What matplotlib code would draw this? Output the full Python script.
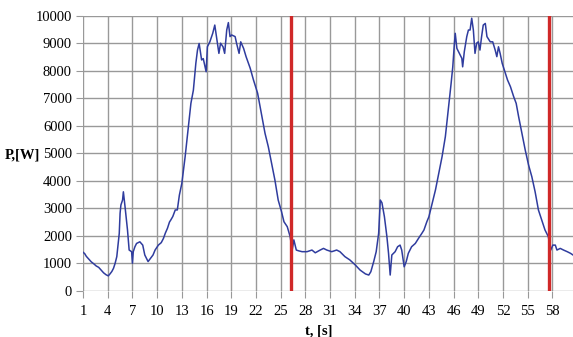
import matplotlib
matplotlib.use('Agg')
import matplotlib.pyplot as plt

# Power trace over two cycles
t = [1.0, 1.2, 1.4, 1.7, 2.0, 2.3, 2.6, 2.9, 3.2, 3.5, 3.8, 4.07, 4.3, 4.5, 4.7, 4.9,
     5.1, 5.3, 5.4, 5.5, 5.6, 5.8, 5.9, 6.1, 6.4, 6.6, 6.9, 7.0, 7.1, 7.3, 7.5, 7.9,
     8.25, 8.5, 8.9, 9.2, 9.5, 9.75, 10.15, 10.5, 10.76, 11.0, 11.25, 11.5, 11.65, 11.9,
     12.2, 12.45, 12.7, 13.0, 13.4, 13.8, 14.1, 14.4, 14.7, 14.9, 15.1, 15.4, 15.6, 15.95,
     16.1, 16.4, 16.75, 17.0, 17.2, 17.5, 17.7, 18.0, 18.2, 18.45, 18.65, 18.85, 19.05,
     19.47, 19.65, 19.95, 20.15, 20.5, 20.8, 21.3, 21.7, 22.2, 22.5, 22.8, 23.1, 23.5,
     23.9, 24.3, 24.7, 25.1, 25.4, 25.8, 26.15, 26.4, 26.6, 26.9, 27.2, 27.6, 28.2, 28.8,
     29.2, 29.8, 30.2, 30.6, 31.2, 31.8, 32.2, 32.8, 33.4, 34.05, 34.65, 35.3, 35.7, 35.95,
     36.3, 36.6, 36.9, 37.1, 37.3, 37.6, 37.9, 38.1, 38.3, 38.5, 38.9, 39.2, 39.5, 39.7,
     40.0, 40.25, 40.5, 40.9, 41.35, 41.75, 42.15, 42.4, 42.75, 43.0, 43.2, 43.4, 43.8,
     44.2, 44.6, 45.0, 45.4, 45.7, 45.9, 46.1, 46.2, 46.4, 46.7, 47.0, 47.1, 47.3, 47.6,
     47.8, 48.0, 48.2, 48.4, 48.6, 48.8, 49.0, 49.2, 49.4, 49.6, 49.85, 50.05, 50.45, 50.75,
     51.05, 51.25, 51.45, 51.65, 51.9, 52.3, 52.55, 52.9, 53.3, 53.6, 53.9, 54.3, 54.7,
     55.1, 55.5, 55.9, 56.3, 56.7, 57.1, 57.5, 57.8, 58.05, 58.35, 58.55, 58.95, 59.35,
     59.8, 60.2, 60.5]
P = [1400, 1350, 1250, 1150, 1050, 980, 900, 850, 750, 650, 580, 540, 620, 700, 815, 1000,
     1240, 1800, 2090, 2820, 3120, 3300, 3600, 3060, 2210, 1480, 1420, 1000, 1420, 1600, 1720, 1780,
     1660, 1300, 1060, 1180, 1300, 1480, 1660, 1750, 1900, 2100, 2270, 2500, 2570, 2700,
     2940, 2940, 3480, 3910, 4880, 5970, 6820, 7300, 8280, 8760, 9000, 8400, 8450, 7970,
     8880, 9060, 9370, 9670, 9250, 8640, 9010, 8880, 8640, 9490, 9760, 9250, 9310,
     9250, 9000, 8640, 9060, 8820, 8520, 8100, 7670, 7190, 6700, 6210, 5730, 5240,
     4640, 4030, 3300, 2880, 2510, 2330, 1970, 1480, 1850, 1480, 1450, 1420, 1420, 1480,
     1380, 1480, 1540, 1480, 1420, 1480, 1420, 1240, 1120, 940, 750, 610, 570, 690,
     1060, 1420, 2090, 3300, 3200, 2690, 1970, 1360, 570, 1300, 1420, 1600, 1660, 1480,
     870, 1060, 1360, 1600, 1720, 1910, 2090, 2210, 2510, 2690, 2940, 3180, 3670,
     4270, 4880, 5610, 6700, 7550, 8150, 9010, 9370, 8820, 8640, 8460, 8150, 8700, 9250,
     9490, 9490, 9920, 9490, 8640, 9010, 9060, 8760, 9250, 9670, 9730, 9250, 9060, 9060,
     8760, 8520, 8880, 8640, 8280, 7910, 7670, 7430, 7060, 6820, 6330, 5730, 5120,
     4580, 4150, 3600, 2940, 2570, 2210, 1970, 1480, 1660, 1660, 1480, 1540, 1480,
     1420, 1360, 1300]

# cycle boundaries
markers = [26.3, 57.6]

x_ticks = list(range(1, 59, 3))
y_ticks = list(range(0, 10001, 1000))

plt.rcParams['font.family'] = ['Liberation Serif', 'DejaVu Serif']

fig = plt.figure(figsize=(5.73, 3.37), dpi=100)
ax = fig.add_axes([0.1449, 0.1374, 0.8551, 0.8151])

ax.plot(t, P, color='#2f3c9e', linewidth=1.1, zorder=3)
for m in markers:
    ax.axvline(m, color='#d02828', linewidth=2.4, zorder=4)

ax.set_xlim(1, 60.5)
ax.set_ylim(0, 10000)
ax.set_xticks(x_ticks)
ax.set_yticks(y_ticks)
ax.grid(True, color='#999999', linewidth=1.0)
ax.set_axisbelow(True)
for s in ax.spines.values():
    s.set_visible(False)
ax.tick_params(direction='out', length=5, color='#999999', labelsize=10.5, pad=3)
ax.tick_params(axis='x', pad=5)

fig.text(0.009, 0.54, 'P,[W]', fontsize=10.5, fontweight='bold', va='center', ha='left')
fig.text(0.556, 0.019, 't, [s]', fontsize=10.5, fontweight='bold', va='center', ha='center')

fig.savefig('out.png', dpi=100)
